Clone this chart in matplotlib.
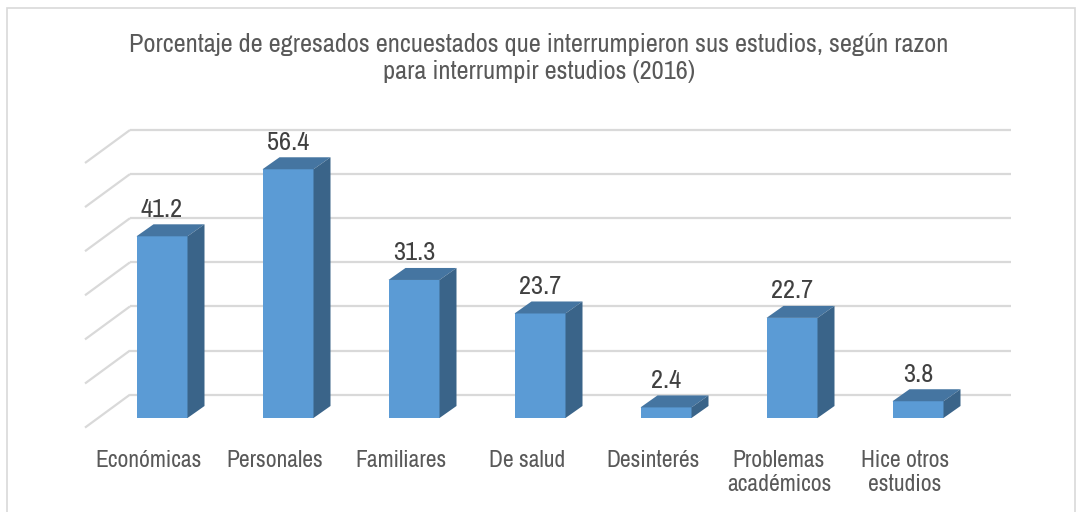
import matplotlib
matplotlib.use('Agg')
import matplotlib.pyplot as plt
from matplotlib.patches import Polygon, Rectangle

categories = ['Económicas', 'Personales', 'Familiares', 'De salud',
              'Desinterés', 'Problemas\nacadémicos', 'Hice otros\nestudios']
values = [41.2, 56.4, 31.3, 23.7, 2.4, 22.7, 3.8]
grid_levels = [0, 10, 20, 30, 40, 50, 60]
title = ('Porcentaje de egresados encuestados que interrumpieron sus estudios, según razon\n'
         'para interrumpir estudios (2016)')

plt.rcParams['font.family'] = ['Archivo Narrow', 'Roboto Condensed', 'Liberation Sans', 'DejaVu Sans']

front_col = '#5B9BD5'
top_col = '#4575A1'
side_col = '#3A6489'
grid_col = '#D9D9D9'

# pixel scale of the picture: 126 px per category, 4.41 px per percent
W, H = 1078, 512
xpx, ypx = 126.0, 4.41
x0px, y0px = 162.0, 418.0

fig = plt.figure(figsize=(W / 100, H / 100), dpi=100)
ax = fig.add_axes([0, 0, 1, 1])
ax.set_xlim(-x0px / xpx, (W - x0px) / xpx)
ax.set_ylim((y0px - H) / ypx, y0px / ypx)
ax.axis('off')

# 3d offsets (data units)
bw = 51 / xpx
bdx, bdy = 17 / xpx, 12 / ypx        # bar depth
wdx, wdy = 32 / xpx, 23.4 / ypx      # back wall
fdx, fdy = -13 / xpx, -9.6 / ypx     # front edge of floor
left = -64 / xpx
right = (1011 - x0px) / xpx - wdx

# walls / gridlines
for v in grid_levels:
    ax.plot([left + wdx, right + wdx], [v + wdy, v + wdy], color=grid_col, lw=1.6,
            solid_capstyle='butt', zorder=1)
    ax.plot([left + fdx, left + wdx], [v + fdy, v + wdy], color=grid_col, lw=1.6,
            solid_capstyle='butt', zorder=1)

# bars
xs = list(range(len(values)))
ax.bar(xs, values, width=bw, color=front_col, zorder=3)
for x, v in zip(xs, values):
    l, r = x - bw / 2, x + bw / 2
    ax.add_patch(Polygon([(l, v), (r, v), (r + bdx, v + bdy), (l + bdx, v + bdy)],
                         closed=True, color=top_col, lw=0, zorder=3))
    ax.add_patch(Polygon([(r, 0), (r + bdx, bdy), (r + bdx, v + bdy), (r, v)],
                         closed=True, color=side_col, lw=0, zorder=3))
    ax.text(x, v + bdy + 0.8, f'{v:.1f}', ha='center', va='bottom',
            fontsize=19, color='#404040', zorder=4)
    ax.text(x + fdx, fdy - 5.0, categories[x], ha='center', va='top',
            fontsize=17, color='#595959', linespacing=1.22)

ax.text(0.5, 1 - 33 / H, title, transform=ax.transAxes, ha='center', va='top',
        fontsize=19, color='#595959', linespacing=1.2)

# chart frame
ax.add_patch(Rectangle((7 / W, -0.05), (W - 10) / W, 1 - 8 / H + 0.05,
                       transform=ax.transAxes, fill=False, ec=grid_col, lw=1.2))

fig.savefig('out.png', dpi=100)
